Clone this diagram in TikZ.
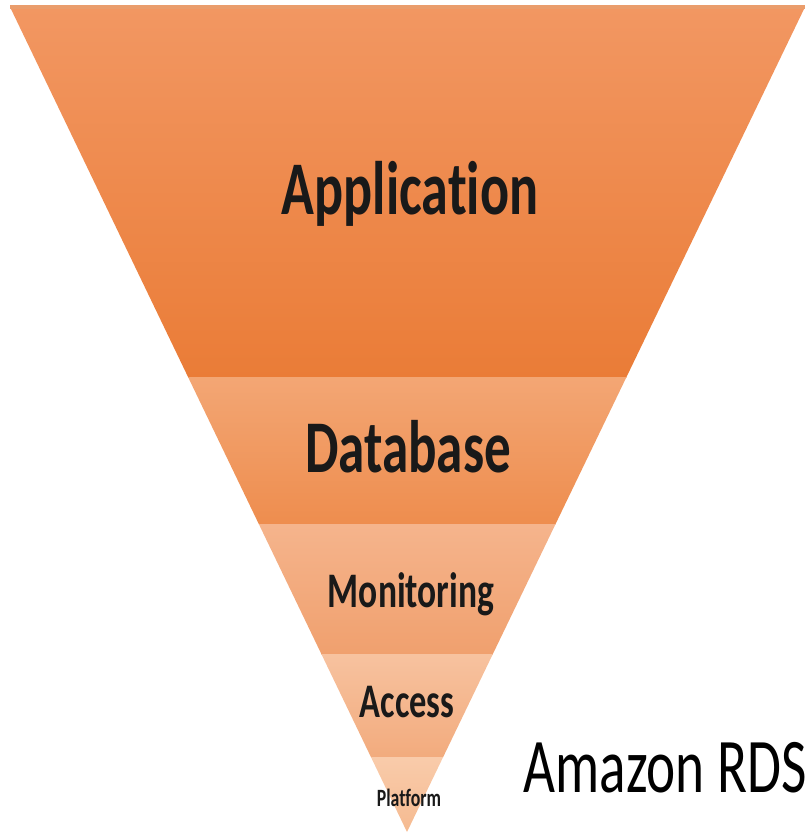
\documentclass[tikz,border=0pt]{standalone}
\usepackage{fontspec}
\setmainfont{Carlito}[Ligatures={NoCommon}]
\usepackage{tikz}
\usetikzlibrary{positioning}
\usetikzlibrary{calc}

\definecolor{AppTop}{HTML}{F29762}
\definecolor{AppBot}{HTML}{EA7C37}
\definecolor{DbTop}{HTML}{F3A674}
\definecolor{DbBot}{HTML}{EE8D4E}
\definecolor{MonTop}{HTML}{F5B48C}
\definecolor{MonBot}{HTML}{F0A06E}
\definecolor{AccTop}{HTML}{F7C29F}
\definecolor{AccBot}{HTML}{F2AB7D}
\definecolor{PlatTop}{HTML}{F9CBAA}
\definecolor{PlatBot}{HTML}{F5BA90}

\tikzset{
	% text in the picture is drawn a little taller than wide
	tallText/.style={inner sep=0pt, anchor=base, yscale=1.4, transform shape},
	layerlabel/.style={tallText, text=black!90},
}

\begin{document}
\begin{tikzpicture}[x=0.01cm, y=0.01cm]
	
	\useasboundingbox (0,0) rectangle (811,833);
	
	% corners of the funnel: apex at the bottom, wide edge at the top
	\coordinate (Apex) at (407,1);
	\coordinate (TL) at (10,826);
	\coordinate (TR) at (805,826);
	
	%%%%%%%%%%%%%%%%%%%%%%%%%%%%%%%%%%%%%%%%%%%%%%%%%%%%%%%%%%%%%%
	\begin{scope}
		\clip (TL) -- (TR) -- (Apex) -- cycle;
		
		% layers, from top to bottom
		\shade[top color=AppTop,  bottom color=AppBot]  (0,455) rectangle (811,826);
		\shade[top color=DbTop,   bottom color=DbBot]   (0,308) rectangle (811,455);
		\shade[top color=MonTop,  bottom color=MonBot]  (0,178) rectangle (811,308);
		\shade[top color=AccTop,  bottom color=AccBot]  (0,75)  rectangle (811,178);
		\shade[top color=PlatTop, bottom color=PlatBot] (0,0)   rectangle (811,75);
	\end{scope}
	
	% thin shade along the wide edge
	\draw[line width=1.2pt, AppTop!80!brown!90] (TL) -- (TR);
	
	% labels: placed at their baselines
	\node[layerlabel, font=\bfseries\fontsize{15.4}{18}\selectfont] (App)  at (410,618) {Application};
	\node[layerlabel, font=\bfseries\fontsize{15.1}{18}\selectfont] (Db)   at (408,360) {Database};
	\node[layerlabel, font=\bfseries\fontsize{10.1}{12}\selectfont] (Mon)  at (411,225) {Monitoring};
	\node[layerlabel, font=\bfseries\fontsize{9.8}{12}\selectfont]  (Acc)  at (407,115) {Access};
	\node[layerlabel, font=\bfseries\fontsize{5.05}{6}\selectfont]  (Plat) at (409,26)  {Platform};
	
	\node[tallText, font=\fontsize{15.7}{18}\selectfont] (RDS) at (665,40) {Amazon RDS};
	
\end{tikzpicture}
\end{document}
